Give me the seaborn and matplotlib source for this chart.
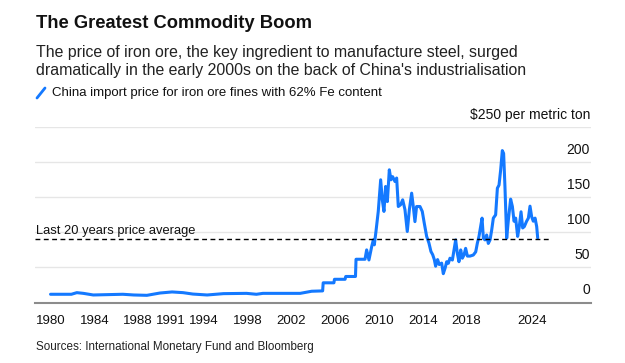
import matplotlib
matplotlib.use("Agg")
import matplotlib.pyplot as plt
from matplotlib.lines import Line2D
import seaborn as sns

# China import price for iron ore fines, 62% Fe ($ per metric ton)
year = [
    1980.0, 1981.9, 1982.4, 1983.0, 1983.9, 1986.6, 1987.6, 1988.8, 1990.0, 1991.1,
    1992.1, 1993.0, 1994.3, 1995.8, 1997.9, 1998.8, 1999.4, 2002.8, 2003.85, 2004.85,
    2004.9, 2005.88, 2005.93, 2006.9, 2006.96, 2007.85, 2007.9, 2008.72, 2008.87, 2009.08,
    2009.33, 2009.48, 2009.57, 2009.72, 2009.93, 2010.15, 2010.3, 2010.45, 2010.6, 2010.76,
    2010.94, 2011.09, 2011.24, 2011.46, 2011.61, 2011.76, 2011.97, 2012.16, 2012.37, 2012.58,
    2012.77, 2012.98, 2013.13, 2013.28, 2013.43, 2013.74, 2013.95, 2014.13, 2014.35, 2014.56,
    2014.74, 2014.9, 2015.05, 2015.17, 2015.35, 2015.5, 2015.72, 2015.87, 2016.03, 2016.18,
    2016.33, 2016.48, 2016.7, 2016.85, 2017.0, 2017.15, 2017.3, 2017.46, 2017.61, 2017.76,
    2017.91, 2018.07, 2018.31, 2018.61, 2018.83, 2018.98, 2019.13, 2019.28, 2019.41, 2019.53,
    2019.68, 2019.83, 2019.98, 2020.14, 2020.29, 2020.44, 2020.65, 2020.81, 2020.96, 2021.11,
    2021.26, 2021.38, 2021.5, 2021.66, 2021.81, 2022.02, 2022.18, 2022.33, 2022.48, 2022.66,
    2022.81, 2022.97, 2023.12, 2023.27, 2023.48, 2023.64, 2023.79, 2023.94, 2024.09, 2024.25,
    2024.4, 2024.49,
]
price = [
    11.7, 11.7, 14, 13, 10.7, 11.7, 10.7, 10.2, 13.5, 15,
    14, 12, 10.7, 12.6, 13, 11.7, 13, 13, 16, 16.5,
    28, 28, 33, 33, 37, 37, 61.5, 61.5, 74.8, 60.5,
    79.5, 89, 82, 101, 129.5, 174.5, 146, 129.5, 165, 143.5,
    188.7, 174.5, 179, 172, 177, 136.5, 139, 146, 132, 101,
    132, 155.5, 136.5, 115, 136.5, 136.5, 129.5, 113, 94, 84.5,
    72.6, 68, 61, 51.6, 61, 54, 56, 41, 48.6, 58,
    55.7, 63, 60.4, 74.8, 89, 70, 58, 74.8, 63, 67.5,
    77, 66, 66, 67.5, 72, 84.3, 94, 108, 120, 91.4,
    89, 96, 84, 89, 103, 120, 124.6, 162.6, 167, 188.7,
    216, 212, 165, 91.4, 117, 147, 136.5, 115.6, 120, 94,
    108, 129, 106, 108, 115.6, 120, 137, 122, 115.6, 120,
    108, 92,
]

avg_price = 90.5          # last 20 years price average
avg_end = 2025.7

x_ticks = [1980, 1984, 1988, 1991, 1994, 1998, 2002, 2006, 2010, 2014, 2018, 2024]
y_ticks = [0, 50, 100, 150, 200, 250]
y_labels = ["0", "50", "100", "150", "200", "$250 per metric ton"]

BLUE = "#1479ff"

sns.set_theme(style="white")
plt.rcParams["font.family"] = ["Liberation Sans", "DejaVu Sans"]

W, H = 625, 363
fig = plt.figure(figsize=(W / 100, H / 100), dpi=100)
ax = fig.add_axes([35 / W, 1 - 302.5 / H, 556 / W, 175.8 / H])

sns.lineplot(x=year, y=price, ax=ax, color=BLUE, linewidth=2.2, sort=False)

ax.set_xlim(1978.58, 2029.36)
ax.set_ylim(0, 250)

# gridlines, with the y labels sitting on top of them at the right
ax.set_yticks(y_ticks)
ax.yaxis.grid(True, color="#e6e6e6", linewidth=1)
ax.tick_params(axis="y", length=0, labelleft=False)
for v, lab in zip(y_ticks, y_labels):
    ax.annotate(lab, xy=(1.0, v), xycoords=("axes fraction", "data"),
                xytext=(-1, 12), textcoords="offset pixels",
                ha="right", va="center", fontsize=10, color="#111111")

ax.set_xticks(x_ticks)
ax.set_xticklabels([str(t) for t in x_ticks])
ax.tick_params(axis="x", length=5, width=1, color="#8c8c8c", pad=4,
               labelsize=9.5, labelcolor="#111111")
for s in ["top", "right", "left"]:
    ax.spines[s].set_visible(False)
ax.spines["bottom"].set_color("#8c8c8c")
ax.spines["bottom"].set_linewidth(1.5)
ax.spines["bottom"].set_zorder(5)

# average line
ax.hlines(avg_price, ax.get_xlim()[0], avg_end, colors="black",
          linestyles=(0, (3.5, 2.5)), linewidth=1, zorder=4)
ax.annotate("Last 20 years price average", xy=(0.0, avg_price),
            xycoords=("axes fraction", "data"), xytext=(1, 5),
            textcoords="offset pixels", ha="left", va="baseline",
            fontsize=9.3, color="#111111")

# header
fig.text(36 / W, 1 - 24 / H, "The Greatest Commodity Boom", fontsize=13.2,
         fontweight="bold", va="center", ha="left", color="#111111")
fig.text(36 / W, 1 - 52 / H,
         "The price of iron ore, the key ingredient to manufacture steel, surged",
         fontsize=11.4, va="center", ha="left", color="#222222")
fig.text(36 / W, 1 - 71 / H,
         "dramatically in the early 2000s on the back of China's industrialisation",
         fontsize=11.4, va="center", ha="left", color="#222222")
fig.add_artist(Line2D([37 / W, 45 / W], [1 - 98 / H, 1 - 88 / H], color=BLUE,
                      linewidth=2, transform=fig.transFigure))
fig.text(52 / W, 1 - 93 / H,
         "China import price for iron ore fines with 62% Fe content",
         fontsize=9.5, va="center", ha="left", color="#111111")

fig.text(36 / W, 1 - 347 / H, "Sources: International Monetary Fund and Bloomberg",
         fontsize=8.4, va="center", ha="left", color="#222222")

fig.savefig("out.png", dpi=100)
